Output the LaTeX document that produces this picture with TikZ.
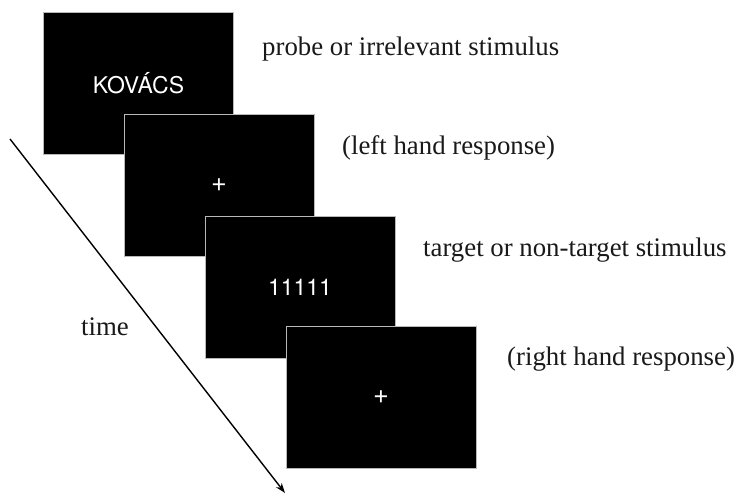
\documentclass[tikz,border=0pt]{standalone}
\usepackage{fontspec}
\setmainfont{Liberation Serif}
\newfontfamily\screenfont{TeX Gyre Heros}
\usetikzlibrary{arrows.meta}
\tikzset{
  screen/.style={fill=black, draw=gray!55, line width=0.9bp, inner sep=0pt,
    minimum width=190bp, minimum height=142bp, text=white,
    font=\screenfont\fontsize{23bp}{26bp}\selectfont},
  fixation/.style={screen, font=\screenfont\fontsize{27bp}{30bp}\selectfont},
  lab/.style={anchor=base west, inner sep=0pt, text=black!90,
    font=\fontsize{26.8bp}{30bp}\selectfont},
  timearrow/.style={line width=1.4bp, -{Stealth[length=10bp,width=7bp]}}
}
\begin{document}
\begin{tikzpicture}[x=1bp,y=-1bp]
\useasboundingbox (0,0) rectangle (737,494);
\node[screen] (s1) at (138.5,83.5) {KOVÁCS};
\node[fixation] (s2) at (219,185.5) {+};
\node[screen] (s3) at (300,287) {11111};
\node[fixation] (s4) at (381,397) {+};
\node[lab] (l1) at (262,56) {probe or irrelevant stimulus};
\node[lab] (l2) at (342,155) {(left hand response)};
\node[lab] (l3) at (423,257) {target or non-target stimulus};
\node[lab] (l4) at (507,365) {(right hand response)};
\node[lab] (lt) at (81,335) {time};
\coordinate (t0) at (10,139);
\coordinate (t1) at (285,493);
\draw[timearrow] (t0) -- (t1);
\end{tikzpicture}
\end{document}
